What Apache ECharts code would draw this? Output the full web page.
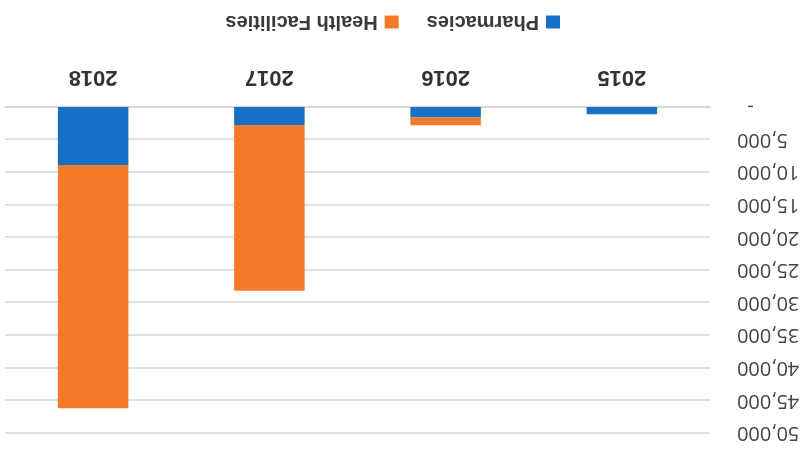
<!DOCTYPE html>
<html>
<head>
<meta charset="utf-8">
<script src="https://cdn.jsdelivr.net/npm/echarts@6/dist/echarts.min.js"></script>
<style>
  html, body { margin: 0; padding: 0; background: #fff; }
  /* the reference picture is upside down, so the chart is turned 180 degrees */
  #chart { width: 812px; height: 449px; transform: rotate(180deg); }
</style>
</head>
<body>
<div id="chart"></div>
<script>
var years = ['2015', '2016', '2017', '2018']
var pharmacies = [1100, 1600, 2750, 8900]
var health_facilities = [0, 1200, 25450, 37300]
var y_ticks = { min: 0, max: 50000, interval: 5000 }

var chart = echarts.init(document.getElementById('chart'))
chart.setOption({
  animation: false,
  textStyle: { fontFamily: 'Liberation Sans' },
  grid: {
    left: 102,
    right: 5,
    top: 16,
    bottom: 107
  },
  legend: {
    left: 247,
    top: 412,
    itemWidth: 14,
    itemHeight: 13,
    itemGap: 28,
    icon: 'rect',
    textStyle: { fontSize: 20, fontWeight: 'bold', color: '#3a3a3a', padding: [0, 0, 0, 2] },
    data: ['Pharmacies', 'Health Facilities']
  },
  xAxis: {
    type: 'category',
    data: years,
    axisLine: { lineStyle: { color: '#d4d4d4', width: 1.5 } },
    axisTick: { show: false },
    axisLabel: { fontSize: 22, fontWeight: 'bold', color: '#333', margin: 19 }
  },
  yAxis: {
    type: 'value',
    min: y_ticks.min,
    max: y_ticks.max,
    interval: y_ticks.interval,
    axisLine: { show: false },
    axisTick: { show: false },
    splitLine: { lineStyle: { color: '#d6d6d6', width: 1.5 } },
    axisLabel: {
      fontSize: 20,
      fontFamily: 'Open Sans',
      color: '#3d4450',
      margin: 27,
      formatter: function(v) {
        return v === 0 ? '-  ' : v.toLocaleString('en-US')
      }
    }
  },
  series: [
    {
      name: 'Pharmacies',
      type: 'bar',
      stack: 'total',
      barWidth: '40%',
      color: '#1570c6',
      data: pharmacies
    },
    {
      name: 'Health Facilities',
      type: 'bar',
      stack: 'total',
      barWidth: '40%',
      color: '#f47a2a',
      data: health_facilities
    }
  ]
})
</script>
</body>
</html>
